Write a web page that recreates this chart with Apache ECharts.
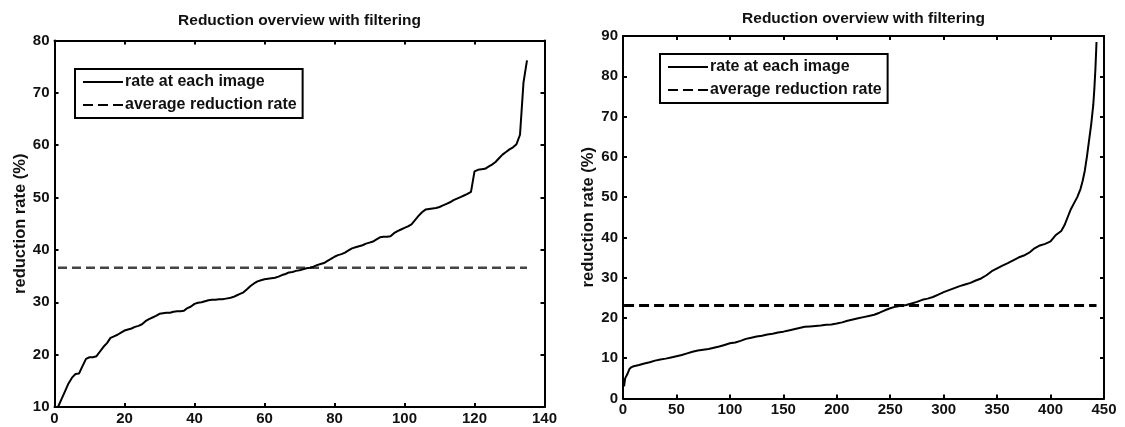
<!DOCTYPE html>
<html>
<head>
<meta charset="utf-8">
<script src="https://cdn.jsdelivr.net/npm/echarts@6/dist/echarts.min.js"></script>
<style>
html,body{margin:0;padding:0;background:#fff;}
#chart{width:1125px;height:427px;}
</style>
</head>
<body>
<div id="chart"></div>
<script>
// ---------- DATA ----------
var titleText = 'Reduction overview with filtering';
var yName = 'reduction rate (%)';
var seriesNames = ['rate at each image', 'average reduction rate'];

// Left panel: reduction rate per image (sorted), image index 1..135
var leftRate = [
  10.0, 11.5, 13.0, 14.5, 15.6, 16.3, 16.4, 17.8, 19.2, 19.5,
  19.5, 19.7, 20.6, 21.5, 22.2, 23.2, 23.5, 23.8, 24.2, 24.6,
  24.8, 25.0, 25.3, 25.5, 25.8, 26.4, 26.8, 27.1, 27.4, 27.8,
  27.9, 28.0, 28.0, 28.2, 28.3, 28.3, 28.4, 28.9, 29.2, 29.7,
  29.9, 30.0, 30.2, 30.4, 30.5, 30.5, 30.6, 30.6, 30.7, 30.8,
  31.0, 31.3, 31.6, 31.9, 32.5, 33.1, 33.6, 34.0, 34.2, 34.4,
  34.5, 34.6, 34.7, 34.9, 35.2, 35.4, 35.7, 35.8, 36.0, 36.1,
  36.3, 36.5, 36.6, 36.8, 37.1, 37.3, 37.5, 37.9, 38.3, 38.7,
  39.0, 39.2, 39.5, 39.9, 40.3, 40.5, 40.7, 40.9, 41.2, 41.4,
  41.6, 42.0, 42.4, 42.5, 42.5, 42.6, 43.2, 43.6, 43.9, 44.2,
  44.5, 44.9, 45.7, 46.5, 47.2, 47.7, 47.8, 47.9, 48.0, 48.2,
  48.5, 48.8, 49.1, 49.5, 49.8, 50.1, 50.4, 50.7, 51.1, 55.0,
  55.3, 55.4, 55.5, 55.9, 56.3, 56.8, 57.5, 58.2, 58.7, 59.2,
  59.6, 60.2, 62.0, 72.0, 76.2
];
var leftAvg = 36.6;
var leftAvgSpan = [1, 135];
var leftXTicks = {min: 0, max: 140, interval: 20};
var leftYTicks = {min: 10, max: 80, interval: 10};

// Right panel: reduction rate per image (sorted), sampled along image index
var rightX = [
  1, 2, 4, 6, 8, 10, 15, 20, 25, 30, 35, 40, 45, 50, 55, 60, 65, 70, 75, 80,
  85, 90, 95, 100, 105, 110, 115, 120, 125, 130, 135, 140, 145, 150, 155, 160,
  165, 170, 175, 180, 185, 190, 195, 200, 205, 210, 215, 220, 225, 230, 235,
  240, 245, 250, 255, 260, 265, 270, 275, 280, 285, 290, 295, 300, 305, 310,
  315, 320, 325, 330, 335, 340, 345, 350, 355, 360, 365, 370, 375, 380, 385,
  390, 395, 400, 405, 410, 413, 416, 419, 422, 425, 428, 430, 432, 434, 436,
  438, 440, 441, 442, 443
];
var rightY = [
  3.0, 5.0, 6.0, 7.3, 7.8, 8.0, 8.3, 8.7, 9.0, 9.4, 9.7, 9.9, 10.2, 10.5, 10.8, 11.2, 11.6, 11.9, 12.1, 12.3,
  12.6, 12.9, 13.3, 13.7, 13.9, 14.3, 14.8, 15.1, 15.4, 15.6, 15.9, 16.1, 16.4, 16.6, 16.9, 17.2,
  17.5, 17.8, 17.9, 18.0, 18.1, 18.3, 18.4, 18.6, 18.9, 19.3, 19.6, 19.9, 20.2, 20.5, 20.8,
  21.3, 21.9, 22.4, 22.8, 23.0, 23.2, 23.6, 24.0, 24.5, 24.8, 25.2, 25.8, 26.4, 26.9, 27.4,
  27.9, 28.3, 28.7, 29.3, 29.8, 30.6, 31.6, 32.3, 33.0, 33.6, 34.3, 35.0, 35.5, 36.2, 37.3,
  38.0, 38.4, 39.0, 40.6, 41.6, 43.0, 45.0, 47.0, 48.5, 50.0, 52.0, 54.0, 56.5, 60.0, 64.0,
  68.0, 73.0, 77.0, 82.0, 88.5
];
var rightAvg = 23.1;
var rightAvgSpan = [1, 443];
var rightXTicks = {min: 0, max: 450, interval: 50};
var rightYTicks = {min: 0, max: 90, interval: 10};

// ---------- CHART ----------
var FONT = '"Liberation Sans", Arial, sans-serif';
var chart = echarts.init(document.getElementById('chart'));

var grids = [
  {left: 54.5, top: 40.5, width: 490, height: 366.5},
  {left: 623, top: 36, width: 481, height: 362.5}
];

function xAxes(gi, t) {
  var base = {
    gridIndex: gi, type: 'value', min: t.min, max: t.max, interval: t.interval,
    axisLine: {show: true, onZero: false, lineStyle: {color: '#000', width: 2}},
    axisTick: {show: true, inside: true, length: 4, lineStyle: {color: '#000', width: 2}},
    splitLine: {show: false}
  };
  var bottom = echarts.util.merge({
    position: 'bottom',
    axisLabel: {show: true, margin: 4, color: '#111', fontFamily: FONT, fontSize: 15, fontWeight: 'bold'}
  }, base, true);
  var top = echarts.util.merge({position: 'top', axisLabel: {show: false}}, base, true);
  return [bottom, top];
}
function yAxes(gi, t, nameGap) {
  var base = {
    gridIndex: gi, type: 'value', min: t.min, max: t.max, interval: t.interval,
    axisLine: {show: true, onZero: false, lineStyle: {color: '#000', width: 2}},
    axisTick: {show: true, inside: true, length: 4, lineStyle: {color: '#000', width: 2}},
    splitLine: {show: false}
  };
  var left = echarts.util.merge({
    position: 'left',
    name: yName, nameLocation: 'middle', nameRotate: 90, nameGap: nameGap,
    nameTextStyle: {color: '#111', fontFamily: FONT, fontSize: 16.5, fontWeight: 'bold'},
    axisLabel: {show: true, margin: 5, color: '#111', fontFamily: FONT, fontSize: 15, fontWeight: 'bold'}
  }, base, true);
  var right = echarts.util.merge({position: 'right', axisLabel: {show: false}}, base, true);
  return [left, right];
}

var xA = xAxes(0, leftXTicks).concat(xAxes(1, rightXTicks));
var yA = yAxes(0, leftYTicks, 25).concat(yAxes(1, rightYTicks, 24));

var leftData = leftRate.map(function (v, i) { return [i + 1, v]; });
var rightData = rightX.map(function (x, i) { return [x, rightY[i]]; });

var solidIcon = 'path://M0 0 H40 V2 H0 Z';
var dashIcon = 'path://M0 0 H10 V2 H0 Z M15 0 H25 V2 H15 Z M30 0 H40 V2 H30 Z';

function legendFor(left, top) {
  return {
    orient: 'vertical', left: left, top: top,
    borderColor: '#000', borderWidth: 2, padding: [5, 6, 5, 8], itemGap: 7,
    itemWidth: 40, itemHeight: 3,
    selectedMode: false,
    textStyle: {color: '#111', fontFamily: FONT, fontSize: 16, fontWeight: 'bold', padding: [0, 0, 0, -3]},
    data: [
      {name: seriesNames[0], icon: solidIcon, itemStyle: {color: '#000'}},
      {name: seriesNames[1], icon: dashIcon, itemStyle: {color: '#000'}}
    ]
  };
}

var option = {
  animation: false,
  backgroundColor: '#fff',
  title: [
    {text: titleText, left: 299.5, top: 13, textAlign: 'center', padding: 0,
     textStyle: {color: '#111', fontFamily: FONT, fontSize: 15.5, fontWeight: 'bold'}},
    {text: titleText, left: 863.5, top: 11, textAlign: 'center', padding: 0,
     textStyle: {color: '#111', fontFamily: FONT, fontSize: 15.5, fontWeight: 'bold'}}
  ],
  legend: [legendFor(75, 69), legendFor(660, 54)],
  grid: grids,
  xAxis: xA,
  yAxis: yA,
  series: [
    {name: seriesNames[0], type: 'line', xAxisIndex: 0, yAxisIndex: 0, data: leftData,
     symbol: 'none', lineStyle: {color: '#000', width: 2}, z: 3},
    {name: seriesNames[1], type: 'line', xAxisIndex: 0, yAxisIndex: 0,
     data: [[leftAvgSpan[0], leftAvg], [leftAvgSpan[1], leftAvg]],
     symbol: 'none', lineStyle: {color: '#444', width: 2.5, type: [9, 5]}, z: 2},
    {name: seriesNames[0], type: 'line', xAxisIndex: 2, yAxisIndex: 2, data: rightData,
     symbol: 'none', lineStyle: {color: '#000', width: 2}, z: 3},
    {name: seriesNames[1], type: 'line', xAxisIndex: 2, yAxisIndex: 2,
     data: [[rightAvgSpan[0], rightAvg], [rightAvgSpan[1], rightAvg]],
     symbol: 'none', lineStyle: {color: '#000', width: 3, type: [10, 5]}, z: 2}
  ]
};
chart.setOption(option);
</script>
</body>
</html>
